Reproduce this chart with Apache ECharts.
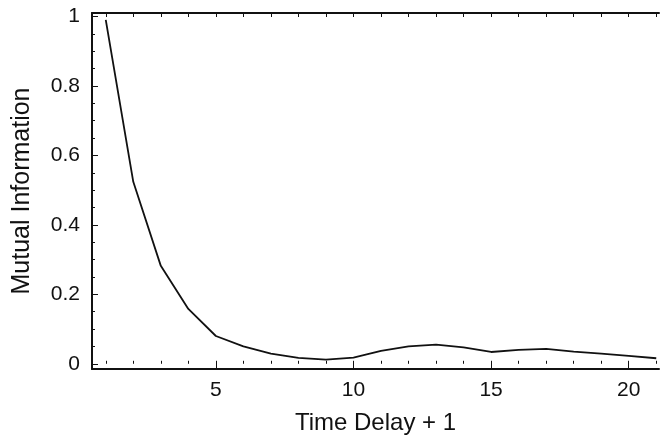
<!DOCTYPE html>
<html>
<head>
<meta charset="utf-8">
<script src="https://cdn.jsdelivr.net/npm/echarts@6/dist/echarts.min.js"></script>
<style>
  html, body { margin: 0; padding: 0; background: #fff; }
  #main { width: 660px; height: 440px; }
</style>
</head>
<body>
<div id="main"></div>
<script>
  // time delay + 1
  var delays = [1, 2, 3, 4, 5, 6, 7, 8, 9, 10, 11, 12, 13, 14, 15, 16, 17, 18, 19, 20, 21];
  // mutual information values
  var mutualInfo = [0.99, 0.524, 0.282, 0.158, 0.08, 0.05, 0.029, 0.017, 0.012, 0.018, 0.037,
                    0.05, 0.055, 0.047, 0.034, 0.04, 0.043, 0.035, 0.029, 0.023, 0.016];
  var xTickLabels = [5, 10, 15, 20];
  var yTickLabels = [0, 0.2, 0.4, 0.6, 0.8, 1];
  var xMinorTicks = delays;
  var yMinorTicks = [];
  for (var i = 0; i <= 20; i++) yMinorTicks.push(+(i * 0.05).toFixed(2));

  var font = 'Liberation Sans, Arial, sans-serif';
  var ink = '#111';

  var myChart = echarts.init(document.getElementById('main'));

  var xBase = { type: 'value', min: 0.5, max: 21.1, splitLine: { show: false } };
  var yBase = { type: 'value', min: -0.015, max: 1.01, splitLine: { show: false } };

  myChart.setOption({
    animation: false,
    grid: { left: 92, top: 13, right: 1, bottom: 71 },
    xAxis: [
      Object.assign({}, xBase, {
        position: 'bottom',
        name: 'Time Delay + 1',
        nameLocation: 'middle',
        nameGap: 42,
        nameTextStyle: { fontFamily: font, fontSize: 24, color: ink },
        axisLine: { onZero: false, lineStyle: { color: ink, width: 2 } },
        axisTick: { inside: true, length: 6, customValues: xTickLabels, lineStyle: { color: ink, width: 1 } },
        axisLabel: { customValues: xTickLabels, fontFamily: font, fontSize: 21, color: ink, margin: 11 }
      }),
      Object.assign({}, xBase, {
        position: 'bottom',
        axisLine: { show: false },
        axisTick: { inside: true, length: 3, customValues: xMinorTicks, lineStyle: { color: ink } },
        axisLabel: { show: false }
      }),
      Object.assign({}, xBase, {
        position: 'top',
        axisLine: { onZero: false, lineStyle: { color: ink, width: 2 } },
        axisTick: { inside: true, length: 4, customValues: xMinorTicks, lineStyle: { color: ink } },
        axisLabel: { show: false }
      })
    ],
    yAxis: [
      Object.assign({}, yBase, {
        position: 'left',
        name: 'Mutual Information',
        nameLocation: 'middle',
        nameGap: 57,
        nameTextStyle: { fontFamily: font, fontSize: 25, color: ink },
        axisLine: { onZero: false, lineStyle: { color: ink, width: 2 } },
        axisTick: { inside: true, length: 6, customValues: yTickLabels, lineStyle: { color: ink, width: 1 } },
        axisLabel: { customValues: yTickLabels, fontFamily: font, fontSize: 21, color: ink, margin: 12 }
      }),
      Object.assign({}, yBase, {
        position: 'left',
        axisLine: { show: false },
        axisTick: { inside: true, length: 3, customValues: yMinorTicks, lineStyle: { color: ink } },
        axisLabel: { show: false }
      })
    ],
    series: [{
      type: 'line',
      xAxisIndex: 0,
      yAxisIndex: 0,
      data: delays.map(function (d, i) { return [d, mutualInfo[i]]; }),
      showSymbol: false,
      lineStyle: { color: ink, width: 1.8 }
    }]
  });
</script>
</body>
</html>
